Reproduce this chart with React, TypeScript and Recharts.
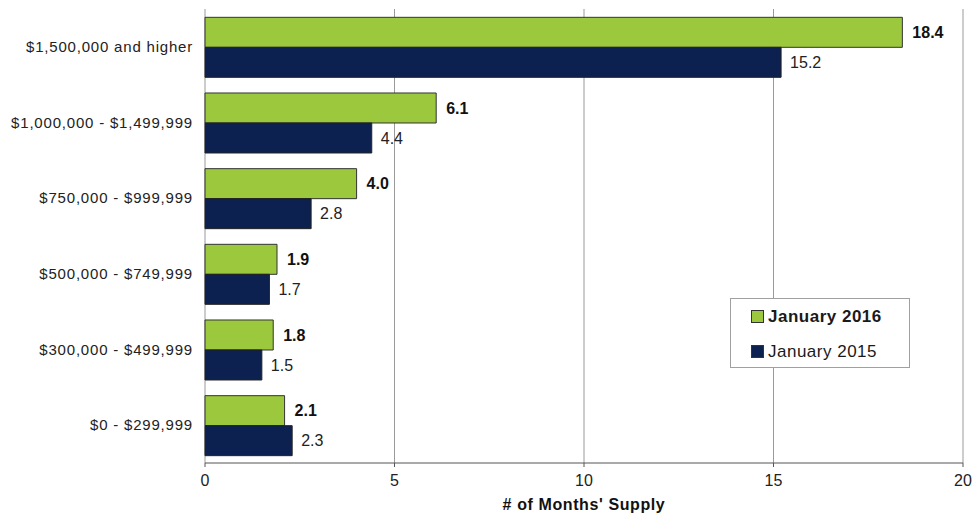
import { Bar, BarChart, CartesianGrid, LabelList, XAxis, YAxis } from "recharts";

const ranges = [
  "$1,500,000 and higher",
  "$1,000,000 - $1,499,999",
  "$750,000 - $999,999",
  "$500,000 - $749,999",
  "$300,000 - $499,999",
  "$0 - $299,999",
];
const jan2016 = [18.4, 6.1, 4.0, 1.9, 1.8, 2.1];
const jan2015 = [15.2, 4.4, 2.8, 1.7, 1.5, 2.3];
const xTicks = [0, 5, 10, 15, 20];
const bandEdges = [0, 1, 2, 3, 4, 5, 6];

const GREEN = "#9BC83C";
const NAVY = "#0D2150";
const FONT = "'Liberation Sans', Arial, sans-serif";

const data = ranges.map((range, i) => ({
  range,
  jan2016: jan2016[i],
  jan2015: jan2015[i],
}));

const fmt = (v: unknown) => Number(v).toFixed(1);

function LegendBox() {
  const row = (color: string, label: string, bold: boolean) => (
    <div style={{ display: "flex", alignItems: "center", height: 35 }}>
      <span
        style={{
          width: 11,
          height: 11,
          background: color,
          border: "1px solid #333",
          marginRight: 4,
          display: "inline-block",
        }}
      />
      <span style={{ fontWeight: bold ? 700 : 400 }}>{label}</span>
    </div>
  );
  return (
    <div
      style={{
        position: "absolute",
        left: 730,
        top: 298,
        width: 180,
        height: 70,
        boxSizing: "border-box",
        border: "1px solid #a0a0a0",
        background: "#fff",
        padding: "0 0 0 20px",
        fontFamily: FONT,
        fontSize: 17,
        letterSpacing: 0.5,
        color: "#1a1a1a",
      }}
    >
      {row(GREEN, "January 2016", true)}
      {row(NAVY, "January 2015", false)}
    </div>
  );
}

export default function App() {
  return (
    <div style={{ position: "absolute", left: 0, top: 0, width: 974, height: 513, background: "#fff" }}>
      <BarChart
        width={974}
        height={513}
        data={data}
        layout="vertical"
        margin={{ top: 9, right: 11, bottom: 0, left: 0 }}
        barCategoryGap="11%"
        barGap={0}
        style={{ fontFamily: FONT }}
      >
        <CartesianGrid horizontal={false} stroke="#9a9a9a" />
        <XAxis
          type="number"
          domain={[0, 20]}
          ticks={xTicks}
          height={50}
          axisLine={{ stroke: "#555" }}
          tickLine={{ stroke: "#555" }}
          tickSize={4}
          tickMargin={8}
          tick={{ fill: "#222", fontSize: 16 }}
          label={{
            value: "# of Months' Supply",
            position: "insideBottom",
            offset: 3,
            fill: "#111",
            fontSize: 16,
            fontWeight: 700,
            letterSpacing: 0.6,
          }}
        />
        <XAxis
          xAxisId="top"
          orientation="top"
          type="number"
          domain={[0, 20]}
          height={0}
          tick={false}
          tickLine={false}
          axisLine={{ stroke: "#555" }}
        />
        <YAxis
          yAxisId="edges"
          type="number"
          domain={[0, 6]}
          ticks={bandEdges}
          width={0}
          tick={false}
          tickSize={5}
          tickLine={{ stroke: "#555" }}
          axisLine={{ stroke: "#555" }}
        />
        <YAxis
          type="category"
          dataKey="range"
          width={205}
          axisLine={false}
          tickLine={false}
          tickSize={0}
          tickMargin={12}
          tick={{ fill: "#222", fontSize: 15, letterSpacing: 0.8 }}
        />
        <YAxis
          yAxisId="right"
          orientation="right"
          type="number"
          domain={[0, 6]}
          width={0}
          tick={false}
          tickLine={false}
          axisLine={{ stroke: "#555", strokeWidth: 2 }}
        />
        <Bar dataKey="jan2016" name="January 2016" fill={GREEN} stroke="#333" isAnimationActive={false}>
          <LabelList
            dataKey="jan2016"
            position="right"
            offset={10}
            formatter={fmt}
            fill="#111"
            fontSize={16}
            fontWeight={700}
          />
        </Bar>
        <Bar dataKey="jan2015" name="January 2015" fill={NAVY} stroke="#222" isAnimationActive={false}>
          <LabelList dataKey="jan2015" position="right" offset={9} formatter={fmt} fill="#222" fontSize={16} />
        </Bar>
      </BarChart>
      <LegendBox />
    </div>
  );
}
